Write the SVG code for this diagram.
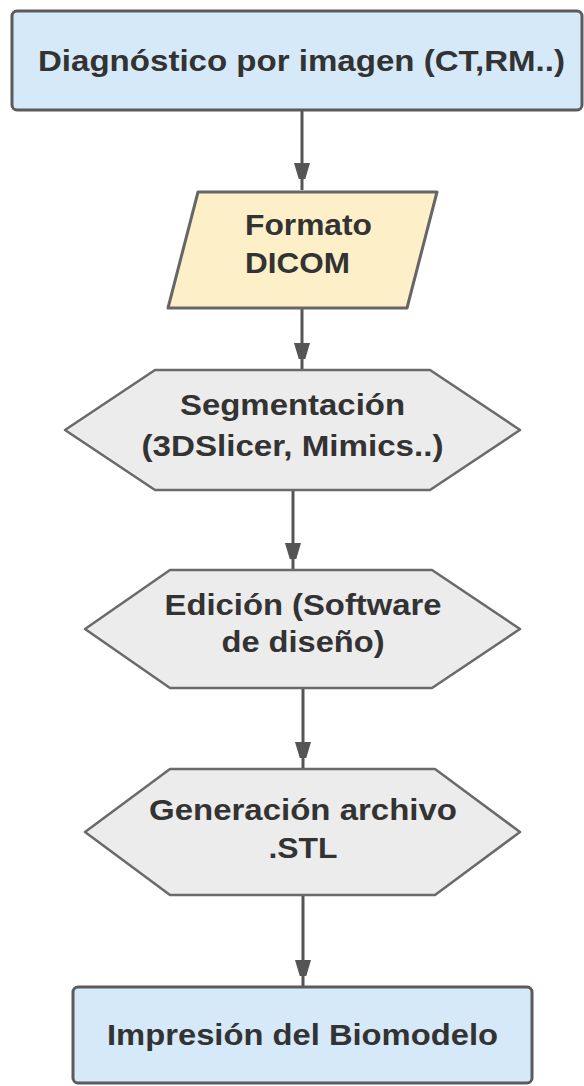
<svg xmlns="http://www.w3.org/2000/svg" width="584" height="1086" viewBox="0 0 584 1086">
<style>
.box{fill:#d6e9f8;stroke:#5b5b5b;stroke-width:3}
.para{fill:#fdf0c9;stroke:#666;stroke-width:3;stroke-linejoin:round}
.hex{fill:#ececec;stroke:#6a6a6a;stroke-width:2.5;stroke-linejoin:round}
.t{font-family:"Liberation Sans",Arial,sans-serif;font-weight:bold;font-size:30px;fill:#333;text-anchor:middle}
.conn{stroke:#555;stroke-width:3;fill:none}
</style>
<defs>
<marker id="ah" markerUnits="userSpaceOnUse" markerWidth="16" markerHeight="28" viewBox="0 0 16 28" refX="27" refY="8" orient="auto">
<path d="M0,0 L27,8 L0,16 Z" fill="#555"/>
</marker>
</defs>
<g id="connectors">
<line class="conn" x1="302" y1="111" x2="302" y2="190" marker-end="url(#ah)"/>
<line class="conn" x1="302" y1="308" x2="302" y2="370" marker-end="url(#ah)"/>
<line class="conn" x1="293" y1="490" x2="293" y2="570" marker-end="url(#ah)"/>
<line class="conn" x1="303" y1="688" x2="303" y2="769" marker-end="url(#ah)"/>
<line class="conn" x1="303" y1="895" x2="303" y2="987" marker-end="url(#ah)"/>
</g>
<g id="n1">
<rect class="box" x="12" y="11" width="570" height="99" rx="5"/>
<text class="t" x="301.5" y="71" textLength="527" lengthAdjust="spacingAndGlyphs">Diagnóstico por imagen (CT,RM..)</text>
</g>
<g id="n2">
<path class="para" d="M198,192 L437,192 L407,308 L168,308 Z"/>
<text class="t" x="245" y="235" style="text-anchor:start" textLength="127" lengthAdjust="spacingAndGlyphs">Formato</text>
<text class="t" x="245" y="273" style="text-anchor:start" textLength="105" lengthAdjust="spacingAndGlyphs">DICOM</text>
</g>
<g id="n3">
<path class="hex" d="M155,370 L430,370 L520,430 L430,490 L155,490 L65,430 Z"/>
<text class="t" x="292.5" y="415" textLength="225" lengthAdjust="spacingAndGlyphs">Segmentación</text>
<text class="t" x="292.5" y="456" textLength="302" lengthAdjust="spacingAndGlyphs">(3DSlicer, Mimics..)</text>
</g>
<g id="n4">
<path class="hex" d="M170,570 L432,570 L520,629 L432,688 L170,688 L85,629 Z"/>
<text class="t" x="303" y="615" textLength="277" lengthAdjust="spacingAndGlyphs">Edición (Software</text>
<text class="t" x="303" y="652" textLength="163" lengthAdjust="spacingAndGlyphs">de diseño)</text>
</g>
<g id="n5">
<path class="hex" d="M170,769 L435,769 L520,832 L435,895 L170,895 L85,832 Z"/>
<text class="t" x="303" y="820" textLength="308" lengthAdjust="spacingAndGlyphs">Generación archivo</text>
<text class="t" x="303" y="858" textLength="69" lengthAdjust="spacingAndGlyphs">.STL</text>
</g>
<g id="n6">
<rect class="box" x="73" y="987" width="459" height="96" rx="5"/>
<text class="t" x="302.5" y="1045" textLength="391" lengthAdjust="spacingAndGlyphs">Impresión del Biomodelo</text>
</g>
</svg>
